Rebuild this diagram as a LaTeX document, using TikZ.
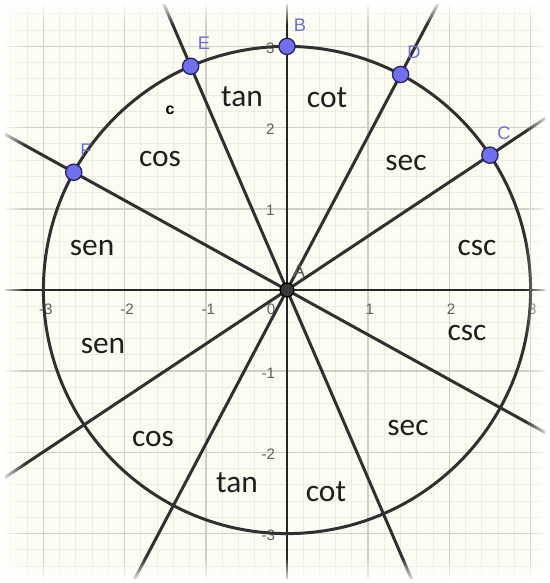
\documentclass[tikz,border=0pt]{standalone}
\usepackage{fontspec}
\setmainfont{Carlito}
\newfontfamily\ggfont{Liberation Sans}
\usetikzlibrary{fadings}
\definecolor{bgcream}{RGB}{253,252,243}
\definecolor{minorgrid}{RGB}{237,236,224}
\definecolor{majorgrid}{RGB}{208,207,198}
\definecolor{curve}{RGB}{48,48,48}
\definecolor{ptfill}{RGB}{112,112,238}
\definecolor{ptdraw}{RGB}{35,35,95}
\definecolor{ptlabel}{RGB}{110,110,210}
\definecolor{ticklab}{RGB}{95,95,95}
\begin{document}
\begin{tikzpicture}[
  trig/.style={font=\fontsize{11}{12}\selectfont, text=black!88, inner sep=0pt},
  ticklabel/.style={font=\ggfont\fontsize{5.3}{6}\selectfont, text=ticklab, inner sep=0pt},
  ptname/.style={font=\ggfont\fontsize{6.4}{7}\selectfont, text=ptlabel, inner sep=0pt},
  freept/.style={circle, fill=ptfill, draw=ptdraw, line width=0.45pt, minimum size=0.2cm, inner sep=0pt},
  originpt/.style={circle, fill=black!78, draw=black, line width=0.45pt, minimum size=0.17cm, inner sep=0pt},
  rayline/.style={draw=curve, line width=1.05pt},
  axisline/.style={draw=black!85, line width=0.55pt},
  fadestrip/.style={fill=white}
]
\useasboundingbox (-3.5345,-3.6084) rectangle (3.2389,3.5714);
\fill[white] (-3.5345,-3.6084) rectangle (3.2389,3.5714);

% named coordinates
\coordinate (A) at (0,0);
\coordinate (B) at (90:3);
\coordinate (C) at (33.6:3);
\coordinate (D) at (62.2:3);
\coordinate (E) at (113.3:3);
\coordinate (F) at (151.1:3);
\coordinate (C1) at (33.6:8);   \coordinate (C2) at (213.6:8);
\coordinate (D1) at (62.2:8);   \coordinate (D2) at (242.2:8);
\coordinate (E1) at (113.3:8);  \coordinate (E2) at (293.3:8);
\coordinate (F1) at (151.1:8);  \coordinate (F2) at (331.1:8);
\coordinate (XL) at (-4,0); \coordinate (XR) at (4,0);
\coordinate (YB) at (0,-4); \coordinate (YT) at (0,4);

\begin{scope}
  \clip (-3.47,-3.55) rectangle (3.18,3.51);
  \fill[bgcream] (-4,-4) rectangle (4,4);
  \draw[minorgrid, line width=0.35pt, step=0.2] (-3.6,-3.8) grid (3.4,3.8);
  \draw[majorgrid, line width=0.55pt, step=1] (-4,-4) grid (4,4);
  % tick labels
  \foreach \k in {1,2,3} {
    \node[ticklabel] (xt\k) at (\k+0.02,-0.235) {\k};
    \node[ticklabel] (xtm\k) at (-\k+0.03,-0.235) {-\k};
    \node[ticklabel, anchor=east] (yt\k) at (-0.145,\k-0.02) {\k};
    \node[ticklabel, anchor=east] (ytm\k) at (-0.14,-\k-0.02) {-\k};
  }
  \node[ticklabel] (xt0) at (-0.197,-0.234) {0};
  % axes
  \draw[axisline] (XL) -- (XR);
  \draw[axisline] (YB) -- (YT);
  % circle and lines
  \draw[rayline] (A) circle (3);
  \draw[rayline] (C1) -- (C2);
  \draw[rayline] (D1) -- (D2);
  \draw[rayline] (E1) -- (E2);
  \draw[rayline] (F1) -- (F2);
\end{scope}

% faded edges
\fill[fadestrip, path fading=east]  (-3.5345,-3.6084) rectangle (-3.23,3.5714);
\fill[fadestrip, path fading=west]  (2.935,-3.6084) rectangle (3.2389,3.5714);
\fill[fadestrip, path fading=south] (-3.5345,3.27) rectangle (3.2389,3.5714);
\fill[fadestrip, path fading=north] (-3.5345,-3.6084) rectangle (3.2389,-3.30);

% points
\node[originpt] (pA) at (A) {};
\node[freept] (pB) at (B) {};
\node[freept] (pC) at (C) {};
\node[freept] (pD) at (D) {};
\node[freept] (pE) at (E) {};
\node[freept] (pF) at (F) {};

% point labels
\node[ptname] (lB) at (0.16,3.264) {B};
\node[ptname] (lE) at (-1.022,3.04) {E};
\node[ptname] (lD) at (1.564,2.93) {D};
\node[ptname] (lC) at (2.672,1.933) {C};
\node[ptname] (lF) at (-2.475,1.724) {F};
\node[ptname, text=black!65] (lA) at (0.148,0.234) {A};

% small bold c
\node[font=\ggfont\bfseries\fontsize{5.6}{6}\selectfont, inner sep=0pt] (lc) at (-1.441,2.217) {c};

% trig labels
\node[trig] (t1) at (-0.554,2.377) {tan};
\node[trig] (t2) at (0.493,2.365) {cot};
\node[trig] (t3) at (-1.564,1.613) {cos};
\node[trig] (t4) at (1.466,1.564) {sec};
\node[trig] (t5) at (-2.401,0.517) {sen};
\node[trig] (t6) at (2.340,0.517) {csc};
\node[trig] (t7) at (-2.266,-0.690) {sen};
\node[trig] (t8) at (2.217,-0.530) {csc};
\node[trig] (t9) at (-1.650,-1.835) {cos};
\node[trig] (t10) at (1.490,-1.700) {sec};
\node[trig] (t11) at (-0.616,-2.377) {tan};
\node[trig] (t12) at (0.480,-2.488) {cot};
\end{tikzpicture}
\end{document}
